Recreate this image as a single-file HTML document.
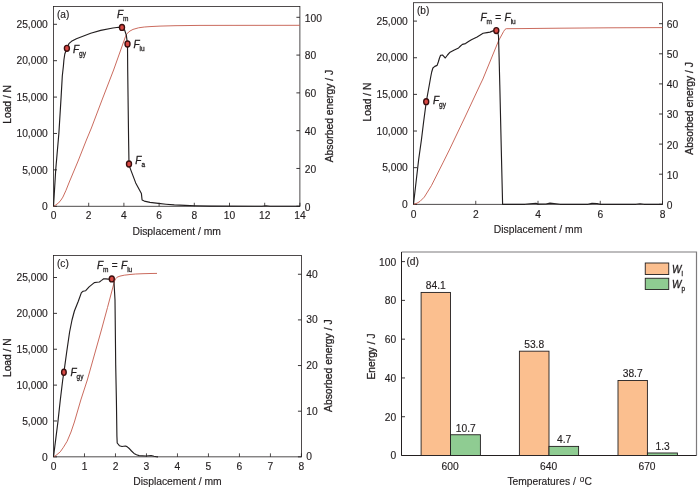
<!DOCTYPE html>
<html><head><meta charset="utf-8"><title>Figure</title>
<style>
html,body{margin:0;padding:0;background:#fff;}
svg{display:block;will-change:transform;}
text{font-family:"Liberation Sans",sans-serif;fill:#231f20;stroke:#231f20;stroke-width:0.15px;}
</style></head>
<body>
<svg width="700" height="490" viewBox="0 0 700 490">
<rect width="700" height="490" fill="#ffffff"/>
<rect x="53.5" y="6.4" width="246.39999999999998" height="199.85" fill="none" stroke="#231f20" stroke-width="0.8"/>
<line x1="53.5" y1="206.25" x2="53.5" y2="202.75" stroke="#231f20" stroke-width="0.8"/>
<text x="53.5" y="218.7" text-anchor="middle" font-size="10.25">0</text>
<line x1="88.7" y1="206.25" x2="88.7" y2="202.75" stroke="#231f20" stroke-width="0.8"/>
<text x="88.7" y="218.7" text-anchor="middle" font-size="10.25">2</text>
<line x1="123.9" y1="206.25" x2="123.9" y2="202.75" stroke="#231f20" stroke-width="0.8"/>
<text x="123.9" y="218.7" text-anchor="middle" font-size="10.25">4</text>
<line x1="159.10000000000002" y1="206.25" x2="159.10000000000002" y2="202.75" stroke="#231f20" stroke-width="0.8"/>
<text x="159.10000000000002" y="218.7" text-anchor="middle" font-size="10.25">6</text>
<line x1="194.3" y1="206.25" x2="194.3" y2="202.75" stroke="#231f20" stroke-width="0.8"/>
<text x="194.3" y="218.7" text-anchor="middle" font-size="10.25">8</text>
<line x1="229.5" y1="206.25" x2="229.5" y2="202.75" stroke="#231f20" stroke-width="0.8"/>
<text x="229.5" y="218.7" text-anchor="middle" font-size="10.25">10</text>
<line x1="264.70000000000005" y1="206.25" x2="264.70000000000005" y2="202.75" stroke="#231f20" stroke-width="0.8"/>
<text x="264.70000000000005" y="218.7" text-anchor="middle" font-size="10.25">12</text>
<line x1="299.90000000000003" y1="206.25" x2="299.90000000000003" y2="202.75" stroke="#231f20" stroke-width="0.8"/>
<text x="299.90000000000003" y="218.7" text-anchor="middle" font-size="10.25">14</text>
<line x1="53.5" y1="206.25" x2="57.0" y2="206.25" stroke="#231f20" stroke-width="0.9"/>
<text x="47.8" y="209.95" text-anchor="end" font-size="10.25">0</text>
<line x1="53.5" y1="169.86" x2="57.0" y2="169.86" stroke="#231f20" stroke-width="0.9"/>
<text x="47.8" y="173.56" text-anchor="end" font-size="10.25">5,000</text>
<line x1="53.5" y1="133.47" x2="57.0" y2="133.47" stroke="#231f20" stroke-width="0.9"/>
<text x="47.8" y="137.17" text-anchor="end" font-size="10.25">10,000</text>
<line x1="53.5" y1="97.08" x2="57.0" y2="97.08" stroke="#231f20" stroke-width="0.9"/>
<text x="47.8" y="100.78" text-anchor="end" font-size="10.25">15,000</text>
<line x1="53.5" y1="60.69" x2="57.0" y2="60.69" stroke="#231f20" stroke-width="0.9"/>
<text x="47.8" y="64.39" text-anchor="end" font-size="10.25">20,000</text>
<line x1="53.5" y1="24.30000000000001" x2="57.0" y2="24.30000000000001" stroke="#231f20" stroke-width="0.9"/>
<text x="47.8" y="28.00000000000001" text-anchor="end" font-size="10.25">25,000</text>
<line x1="299.9" y1="206.25" x2="296.4" y2="206.25" stroke="#231f20" stroke-width="0.9"/>
<text x="304.79999999999995" y="210.65" text-anchor="start" font-size="10.25">0</text>
<line x1="299.9" y1="168.46" x2="296.4" y2="168.46" stroke="#231f20" stroke-width="0.9"/>
<text x="304.79999999999995" y="172.86" text-anchor="start" font-size="10.25">20</text>
<line x1="299.9" y1="130.67000000000002" x2="296.4" y2="130.67000000000002" stroke="#231f20" stroke-width="0.9"/>
<text x="304.79999999999995" y="135.07000000000002" text-anchor="start" font-size="10.25">40</text>
<line x1="299.9" y1="92.88" x2="296.4" y2="92.88" stroke="#231f20" stroke-width="0.9"/>
<text x="304.79999999999995" y="97.28" text-anchor="start" font-size="10.25">60</text>
<line x1="299.9" y1="55.09" x2="296.4" y2="55.09" stroke="#231f20" stroke-width="0.9"/>
<text x="304.79999999999995" y="59.49" text-anchor="start" font-size="10.25">80</text>
<line x1="299.9" y1="17.30000000000001" x2="296.4" y2="17.30000000000001" stroke="#231f20" stroke-width="0.9"/>
<text x="304.79999999999995" y="21.70000000000001" text-anchor="start" font-size="10.25">100</text>
<text x="176.7" y="234.5" text-anchor="middle" font-size="10.35">Displacement / mm</text>
<text x="10.7" y="104.4" text-anchor="middle" font-size="10.25" transform="rotate(-90 10.7 104.4)" style="stroke-width:0.3px">Load / N</text>
<text x="333.4" y="116.0" text-anchor="middle" font-size="10.35" transform="rotate(-90 333.4 116.0)" style="stroke-width:0.3px">Absorbed energy / J</text>
<text x="57.0" y="18.0" text-anchor="start" font-size="10.15">(a)</text>
<path d="M53.5,206.25 L55.7,205 L58.6,202.9 L61,200 L62.9,197.1 L66,190.3 L69.3,182 L78.1,161 L86.4,140 L91.4,128 L102,100 L113.6,70 L125.5,36.5 L126.3,34.8 L127.1,33.5 L130,31 L133,29.4 L138.6,27.8 L144.3,27.0 L150,26.6 L160,26.1 L175,25.7 L200,25.4 L299.9,25.3" fill="none" stroke="#c45a4c" stroke-width="0.9" stroke-linejoin="round"/>
<path d="M53.5,206.25 L54.2,195 L55.7,170 L57,155 L58.3,140 L58.9,133 L61.1,97.1 L62.3,76 L63.4,66 L63.9,60 L64.8,54 L66.9,48.3 L68.9,43.7 L71.5,41.3 L76.4,38.7 L90.7,33.3 L100.7,30.4 L112.9,28.0 L118.6,27.2 L122,27.4 L124.6,30 L126.3,35.1 L127.5,44 L127.7,70 L128.6,140 L129,164 L130,167.9 L135.7,182.9 L141.4,193.6 L142.1,200 L144.3,201.1 L150,202.4 L158.3,203.4 L166,204.2 L174.3,204.9 L185,205.4 L195,205.8 L210,206.15 L255,206.25 L262,206.2 L266,205.7 L270,206.2 L275,206.25 L299.9,206.25" fill="none" stroke="#231f20" stroke-width="1.15" stroke-linejoin="round"/>
<ellipse cx="66.9" cy="48.3" rx="2.5" ry="2.95" fill="#d84843" stroke="#3a0f0f" stroke-width="1.4"/>
<ellipse cx="122" cy="27.4" rx="2.5" ry="2.95" fill="#d84843" stroke="#3a0f0f" stroke-width="1.4"/>
<ellipse cx="127.5" cy="44" rx="2.5" ry="2.95" fill="#d84843" stroke="#3a0f0f" stroke-width="1.4"/>
<ellipse cx="129" cy="164" rx="2.5" ry="2.95" fill="#d84843" stroke="#3a0f0f" stroke-width="1.4"/>
<text x="73" y="52.6" font-size="10.0" style="stroke-width:0.3px"><tspan font-style="italic">F</tspan><tspan font-size="6.5" dy="3.0" fill="#3c3a3b">gy</tspan></text>
<text x="117" y="17.8" font-size="10.0" style="stroke-width:0.3px"><tspan font-style="italic">F</tspan><tspan font-size="6.5" dy="3.0" fill="#3c3a3b">m</tspan></text>
<text x="133.4" y="47.6" font-size="10.0" style="stroke-width:0.3px"><tspan font-style="italic">F</tspan><tspan font-size="6.5" dy="3.0" fill="#3c3a3b">iu</tspan></text>
<text x="135.3" y="164.2" font-size="10.0" style="stroke-width:0.3px"><tspan font-style="italic">F</tspan><tspan font-size="6.5" dy="3.0" fill="#3c3a3b">a</tspan></text>
<rect x="413.5" y="2.7" width="249.0" height="201.60000000000002" fill="none" stroke="#231f20" stroke-width="0.8"/>
<line x1="413.5" y1="204.3" x2="413.5" y2="200.8" stroke="#231f20" stroke-width="0.8"/>
<text x="413.5" y="217.5" text-anchor="middle" font-size="10.25">0</text>
<line x1="475.75" y1="204.3" x2="475.75" y2="200.8" stroke="#231f20" stroke-width="0.8"/>
<text x="475.75" y="217.5" text-anchor="middle" font-size="10.25">2</text>
<line x1="538.0" y1="204.3" x2="538.0" y2="200.8" stroke="#231f20" stroke-width="0.8"/>
<text x="538.0" y="217.5" text-anchor="middle" font-size="10.25">4</text>
<line x1="600.25" y1="204.3" x2="600.25" y2="200.8" stroke="#231f20" stroke-width="0.8"/>
<text x="600.25" y="217.5" text-anchor="middle" font-size="10.25">6</text>
<line x1="662.5" y1="204.3" x2="662.5" y2="200.8" stroke="#231f20" stroke-width="0.8"/>
<text x="662.5" y="217.5" text-anchor="middle" font-size="10.25">8</text>
<line x1="413.5" y1="204.3" x2="417.0" y2="204.3" stroke="#231f20" stroke-width="0.9"/>
<text x="407.8" y="208.0" text-anchor="end" font-size="10.25">0</text>
<line x1="413.5" y1="167.66000000000003" x2="417.0" y2="167.66000000000003" stroke="#231f20" stroke-width="0.9"/>
<text x="407.8" y="171.36" text-anchor="end" font-size="10.25">5,000</text>
<line x1="413.5" y1="131.02" x2="417.0" y2="131.02" stroke="#231f20" stroke-width="0.9"/>
<text x="407.8" y="134.72" text-anchor="end" font-size="10.25">10,000</text>
<line x1="413.5" y1="94.38000000000001" x2="417.0" y2="94.38000000000001" stroke="#231f20" stroke-width="0.9"/>
<text x="407.8" y="98.08000000000001" text-anchor="end" font-size="10.25">15,000</text>
<line x1="413.5" y1="57.74000000000001" x2="417.0" y2="57.74000000000001" stroke="#231f20" stroke-width="0.9"/>
<text x="407.8" y="61.44000000000001" text-anchor="end" font-size="10.25">20,000</text>
<line x1="413.5" y1="21.100000000000023" x2="417.0" y2="21.100000000000023" stroke="#231f20" stroke-width="0.9"/>
<text x="407.8" y="24.800000000000022" text-anchor="end" font-size="10.25">25,000</text>
<line x1="662.5" y1="204.3" x2="659.0" y2="204.3" stroke="#231f20" stroke-width="0.9"/>
<text x="666.7" y="208.70000000000002" text-anchor="start" font-size="10.25">0</text>
<line x1="662.5" y1="174.20000000000002" x2="659.0" y2="174.20000000000002" stroke="#231f20" stroke-width="0.9"/>
<text x="666.7" y="178.60000000000002" text-anchor="start" font-size="10.25">10</text>
<line x1="662.5" y1="144.10000000000002" x2="659.0" y2="144.10000000000002" stroke="#231f20" stroke-width="0.9"/>
<text x="666.7" y="148.50000000000003" text-anchor="start" font-size="10.25">20</text>
<line x1="662.5" y1="114.0" x2="659.0" y2="114.0" stroke="#231f20" stroke-width="0.9"/>
<text x="666.7" y="118.4" text-anchor="start" font-size="10.25">30</text>
<line x1="662.5" y1="83.9" x2="659.0" y2="83.9" stroke="#231f20" stroke-width="0.9"/>
<text x="666.7" y="88.30000000000001" text-anchor="start" font-size="10.25">40</text>
<line x1="662.5" y1="53.80000000000001" x2="659.0" y2="53.80000000000001" stroke="#231f20" stroke-width="0.9"/>
<text x="666.7" y="58.20000000000001" text-anchor="start" font-size="10.25">50</text>
<line x1="662.5" y1="23.69999999999999" x2="659.0" y2="23.69999999999999" stroke="#231f20" stroke-width="0.9"/>
<text x="666.7" y="28.099999999999987" text-anchor="start" font-size="10.25">60</text>
<text x="538.0" y="232.8" text-anchor="middle" font-size="10.35">Displacement / mm</text>
<text x="370.5" y="102" text-anchor="middle" font-size="10.25" transform="rotate(-90 370.5 102)" style="stroke-width:0.3px">Load / N</text>
<text x="693" y="108.4" text-anchor="middle" font-size="10.35" transform="rotate(-90 693 108.4)" style="stroke-width:0.3px">Absorbed energy / J</text>
<text x="417.0" y="14.3" text-anchor="start" font-size="10.15">(b)</text>
<path d="M413.5,204.3 L417,203.2 L420,201.4 L424.3,197.1 L431.4,185.7 L442.9,162.9 L449.3,150 L465.5,116 L480,85 L482.9,79 L498.6,40.7 L503.6,31.5 L505.0,29.4 L506.3,28.7 L520,28.6 L560,28.2 L610,27.8 L662.5,27.6" fill="none" stroke="#c45a4c" stroke-width="0.9" stroke-linejoin="round"/>
<path d="M413.5,204.3 L418.6,160 L421.4,140 L423.6,122 L426.3,101.5 L429.3,85 L430.7,77 L431.7,72 L432.9,68 L434.8,66.4 L437.1,65.4 L438.3,62 L439.5,58 L440.6,55.3 L442.5,55.0 L443.8,56.3 L445.3,58 L447.5,55 L449.6,52.6 L454.3,50 L458.6,47.9 L460.5,46.0 L462.4,44.4 L465.5,43.6 L468.5,41.6 L471.4,39.8 L477.1,36.9 L483.1,33.3 L487,32.6 L490,32.1 L493,30.9 L496.3,30.5 L497.6,31.5 L498.5,36 L499.1,57 L499.8,85 L501.3,150 L502.6,204.3 L525,204.3 L530,203.7 L536,203.3 L538,204.1 L546,204.0 L550,203.1 L556,203.7 L560,204.3 L588,204.3 L592,203.4 L597,203.5 L600,204.3 L636,204.3 L640,203.8 L644,204.3 L662.5,204.3" fill="none" stroke="#231f20" stroke-width="1.15" stroke-linejoin="round"/>
<ellipse cx="426.2" cy="101.7" rx="2.5" ry="2.95" fill="#d84843" stroke="#3a0f0f" stroke-width="1.4"/>
<ellipse cx="496.3" cy="30.6" rx="2.5" ry="2.95" fill="#d84843" stroke="#3a0f0f" stroke-width="1.4"/>
<text x="433" y="104" font-size="10.0" style="stroke-width:0.3px"><tspan font-style="italic">F</tspan><tspan font-size="6.5" dy="3.0" fill="#3c3a3b">gy</tspan></text>
<text x="480.5" y="20.9" font-size="10.0" style="stroke-width:0.3px"><tspan font-style="italic">F</tspan><tspan font-size="6.5" dy="3.0" fill="#3c3a3b">m</tspan><tspan dy="-3.0" dx="0.4"> = </tspan><tspan font-style="italic" dx="0.7">F</tspan><tspan font-size="6.5" dy="3.0" fill="#3c3a3b">iu</tspan></text>
<rect x="53.5" y="255.5" width="247.95" height="201.35000000000002" fill="none" stroke="#231f20" stroke-width="0.8"/>
<line x1="53.5" y1="456.85" x2="53.5" y2="453.35" stroke="#231f20" stroke-width="0.8"/>
<text x="53.5" y="469.70000000000005" text-anchor="middle" font-size="10.25">0</text>
<line x1="84.49" y1="456.85" x2="84.49" y2="453.35" stroke="#231f20" stroke-width="0.8"/>
<text x="84.49" y="469.70000000000005" text-anchor="middle" font-size="10.25">1</text>
<line x1="115.47999999999999" y1="456.85" x2="115.47999999999999" y2="453.35" stroke="#231f20" stroke-width="0.8"/>
<text x="115.47999999999999" y="469.70000000000005" text-anchor="middle" font-size="10.25">2</text>
<line x1="146.47" y1="456.85" x2="146.47" y2="453.35" stroke="#231f20" stroke-width="0.8"/>
<text x="146.47" y="469.70000000000005" text-anchor="middle" font-size="10.25">3</text>
<line x1="177.45999999999998" y1="456.85" x2="177.45999999999998" y2="453.35" stroke="#231f20" stroke-width="0.8"/>
<text x="177.45999999999998" y="469.70000000000005" text-anchor="middle" font-size="10.25">4</text>
<line x1="208.45" y1="456.85" x2="208.45" y2="453.35" stroke="#231f20" stroke-width="0.8"/>
<text x="208.45" y="469.70000000000005" text-anchor="middle" font-size="10.25">5</text>
<line x1="239.44" y1="456.85" x2="239.44" y2="453.35" stroke="#231f20" stroke-width="0.8"/>
<text x="239.44" y="469.70000000000005" text-anchor="middle" font-size="10.25">6</text>
<line x1="270.42999999999995" y1="456.85" x2="270.42999999999995" y2="453.35" stroke="#231f20" stroke-width="0.8"/>
<text x="270.42999999999995" y="469.70000000000005" text-anchor="middle" font-size="10.25">7</text>
<line x1="301.41999999999996" y1="456.85" x2="301.41999999999996" y2="453.35" stroke="#231f20" stroke-width="0.8"/>
<text x="301.41999999999996" y="469.70000000000005" text-anchor="middle" font-size="10.25">8</text>
<line x1="53.5" y1="456.85" x2="57.0" y2="456.85" stroke="#231f20" stroke-width="0.9"/>
<text x="47.8" y="460.55" text-anchor="end" font-size="10.25">0</text>
<line x1="53.5" y1="420.98" x2="57.0" y2="420.98" stroke="#231f20" stroke-width="0.9"/>
<text x="47.8" y="424.68" text-anchor="end" font-size="10.25">5,000</text>
<line x1="53.5" y1="385.11" x2="57.0" y2="385.11" stroke="#231f20" stroke-width="0.9"/>
<text x="47.8" y="388.81" text-anchor="end" font-size="10.25">10,000</text>
<line x1="53.5" y1="349.24" x2="57.0" y2="349.24" stroke="#231f20" stroke-width="0.9"/>
<text x="47.8" y="352.94" text-anchor="end" font-size="10.25">15,000</text>
<line x1="53.5" y1="313.37" x2="57.0" y2="313.37" stroke="#231f20" stroke-width="0.9"/>
<text x="47.8" y="317.07" text-anchor="end" font-size="10.25">20,000</text>
<line x1="53.5" y1="277.5" x2="57.0" y2="277.5" stroke="#231f20" stroke-width="0.9"/>
<text x="47.8" y="281.2" text-anchor="end" font-size="10.25">25,000</text>
<line x1="301.45" y1="456.85" x2="297.95" y2="456.85" stroke="#231f20" stroke-width="0.9"/>
<text x="306.34999999999997" y="460.25" text-anchor="start" font-size="10.25">0</text>
<line x1="301.45" y1="411.20000000000005" x2="297.95" y2="411.20000000000005" stroke="#231f20" stroke-width="0.9"/>
<text x="306.34999999999997" y="414.6" text-anchor="start" font-size="10.25">10</text>
<line x1="301.45" y1="365.55" x2="297.95" y2="365.55" stroke="#231f20" stroke-width="0.9"/>
<text x="306.34999999999997" y="368.95" text-anchor="start" font-size="10.25">20</text>
<line x1="301.45" y1="319.90000000000003" x2="297.95" y2="319.90000000000003" stroke="#231f20" stroke-width="0.9"/>
<text x="306.34999999999997" y="323.3" text-anchor="start" font-size="10.25">30</text>
<line x1="301.45" y1="274.25" x2="297.95" y2="274.25" stroke="#231f20" stroke-width="0.9"/>
<text x="306.34999999999997" y="277.65" text-anchor="start" font-size="10.25">40</text>
<text x="177.475" y="484.5" text-anchor="middle" font-size="10.35">Displacement / mm</text>
<text x="10.8" y="357.7" text-anchor="middle" font-size="10.25" transform="rotate(-90 10.8 357.7)" style="stroke-width:0.3px">Load / N</text>
<text x="332.5" y="365.7" text-anchor="middle" font-size="10.35" transform="rotate(-90 332.5 365.7)" style="stroke-width:0.3px">Absorbed energy / J</text>
<text x="57.0" y="267.1" text-anchor="start" font-size="10.15">(c)</text>
<path d="M53.5,456.85 L56,455.4 L60.3,451.8 L63.5,447.2 L67.1,441.3 L71,432 L74.4,422 L80.8,400 L87.3,380 L101.4,330 L107.5,307.5 L113.9,283.4 L114.8,280.5 L115.8,278.6 L117.1,277.2 L120,276.1 L124.3,275.2 L130,274.5 L135.7,274.0 L143,273.7 L150,273.5 L157,273.4" fill="none" stroke="#c45a4c" stroke-width="0.9" stroke-linejoin="round"/>
<path d="M53.5,456.85 L57.9,422 L60.3,400 L62.7,380 L63.9,372.3 L66.7,352 L69.6,332 L72,320 L74.4,311 L78.3,301.2 L81.4,292.6 L83.1,291.2 L85.7,290.7 L89.1,286.9 L94.3,282.6 L97,282.2 L99.4,282.0 L101.6,280.4 L103.7,278.8 L106,278.9 L108,279.1 L111.7,278.9 L114,282 L115,300 L115.7,365 L116.4,400 L116.9,436 L117.2,443 L119.4,445.7 L122,446.5 L125.4,446.0 L127,446.6 L128.9,448.2 L131.5,451 L134,453.4 L136.5,454.8 L139.1,455.6 L146,456.0 L151.1,455.5 L154,456.2 L156.3,456.7 L158,456.85" fill="none" stroke="#231f20" stroke-width="1.15" stroke-linejoin="round"/>
<ellipse cx="63.9" cy="372.3" rx="2.3" ry="3.1" fill="#d84843" stroke="#3a0f0f" stroke-width="1.4"/>
<ellipse cx="111.8" cy="278.9" rx="2.5" ry="2.95" fill="#d84843" stroke="#3a0f0f" stroke-width="1.4"/>
<text x="70.5" y="375.6" font-size="10.0" style="stroke-width:0.3px"><tspan font-style="italic">F</tspan><tspan font-size="6.5" dy="3.0" fill="#3c3a3b">gy</tspan></text>
<text x="97" y="268.8" font-size="10.0" style="stroke-width:0.3px"><tspan font-style="italic">F</tspan><tspan font-size="6.5" dy="3.0" fill="#3c3a3b">m</tspan><tspan dy="-3.0" dx="0.4"> = </tspan><tspan font-style="italic" dx="0.7">F</tspan><tspan font-size="6.5" dy="3.0" fill="#3c3a3b">iu</tspan></text>
<path d="M401.5,252 H696.5 V455.5" fill="none" stroke="#7d7b7c" stroke-width="1.2"/>
<path d="M401.5,252 V455.5 H696.5" fill="none" stroke="#231f20" stroke-width="1"/>
<line x1="401.5" y1="455.5" x2="405.0" y2="455.5" stroke="#231f20" stroke-width="0.9"/>
<text x="396.1" y="459.4" text-anchor="end" font-size="10.25">0</text>
<line x1="401.5" y1="416.72" x2="405.0" y2="416.72" stroke="#231f20" stroke-width="0.9"/>
<text x="396.1" y="420.62" text-anchor="end" font-size="10.25">20</text>
<line x1="401.5" y1="377.94" x2="405.0" y2="377.94" stroke="#231f20" stroke-width="0.9"/>
<text x="396.1" y="381.84" text-anchor="end" font-size="10.25">40</text>
<line x1="401.5" y1="339.15999999999997" x2="405.0" y2="339.15999999999997" stroke="#231f20" stroke-width="0.9"/>
<text x="396.1" y="343.05999999999995" text-anchor="end" font-size="10.25">60</text>
<line x1="401.5" y1="300.38" x2="405.0" y2="300.38" stroke="#231f20" stroke-width="0.9"/>
<text x="396.1" y="304.28" text-anchor="end" font-size="10.25">80</text>
<line x1="401.5" y1="261.6" x2="405.0" y2="261.6" stroke="#231f20" stroke-width="0.9"/>
<text x="396.1" y="265.5" text-anchor="end" font-size="10.25">100</text>
<text x="406.4" y="264.5" text-anchor="start" font-size="10.25">(d)</text>
<rect x="421.1" y="292.43010000000004" width="29.399999999999977" height="163.06989999999996" fill="#fbbf8f" stroke="#231f20" stroke-width="0.9"/>
<rect x="450.5" y="434.7527" width="29.899999999999977" height="20.747299999999996" fill="#8fcc92" stroke="#231f20" stroke-width="0.9"/>
<text x="435.8" y="289.43010000000004" text-anchor="middle" font-size="10.25">84.1</text>
<text x="465.75" y="431.7527" text-anchor="middle" font-size="10.25">10.7</text>
<text x="450.1" y="469.5" text-anchor="middle" font-size="10.25">600</text>
<rect x="519.4" y="351.1818" width="29.600000000000023" height="104.31819999999999" fill="#fbbf8f" stroke="#231f20" stroke-width="0.9"/>
<rect x="549.0" y="446.3867" width="29.600000000000023" height="9.113299999999981" fill="#8fcc92" stroke="#231f20" stroke-width="0.9"/>
<text x="534.2" y="348.1818" text-anchor="middle" font-size="10.25">53.8</text>
<text x="564.0999999999999" y="443.3867" text-anchor="middle" font-size="10.25">4.7</text>
<text x="548.6" y="469.5" text-anchor="middle" font-size="10.25">640</text>
<rect x="618.0" y="380.4607" width="29.399999999999977" height="75.03930000000003" fill="#fbbf8f" stroke="#231f20" stroke-width="0.9"/>
<rect x="647.4" y="452.9793" width="30.0" height="2.5206999999999766" fill="#8fcc92" stroke="#231f20" stroke-width="0.9"/>
<text x="632.7" y="377.4607" text-anchor="middle" font-size="10.25">38.7</text>
<text x="662.6999999999999" y="449.9793" text-anchor="middle" font-size="10.25">1.3</text>
<text x="647.0" y="469.5" text-anchor="middle" font-size="10.25">670</text>
<text x="507.4" y="485" text-anchor="start" font-size="10.25">Temperatures / <tspan font-size="8.2" dy="-3.2" dx="1.2">o</tspan><tspan dy="3.2" dx="0.2">C</tspan></text>
<text x="374.7" y="356.4" text-anchor="middle" font-size="10.25" transform="rotate(-90 374.7 356.4)" style="stroke-width:0.3px">Energy / J</text>
<rect x="645.25" y="263" width="23.5" height="11.5" fill="#fbbf8f" stroke="#231f20" stroke-width="0.9"/>
<rect x="645.25" y="278.25" width="23.5" height="11.25" fill="#8fcc92" stroke="#231f20" stroke-width="0.9"/>
<text x="672" y="272.5" font-size="10.0" style="stroke-width:0.3px"><tspan font-style="italic">W</tspan><tspan font-size="6.5" dy="3.0" fill="#3c3a3b">i</tspan></text>
<text x="672" y="287.5" font-size="10.0" style="stroke-width:0.3px"><tspan font-style="italic">W</tspan><tspan font-size="6.5" dy="3.0" fill="#3c3a3b">p</tspan></text>
</svg>
</body></html>
